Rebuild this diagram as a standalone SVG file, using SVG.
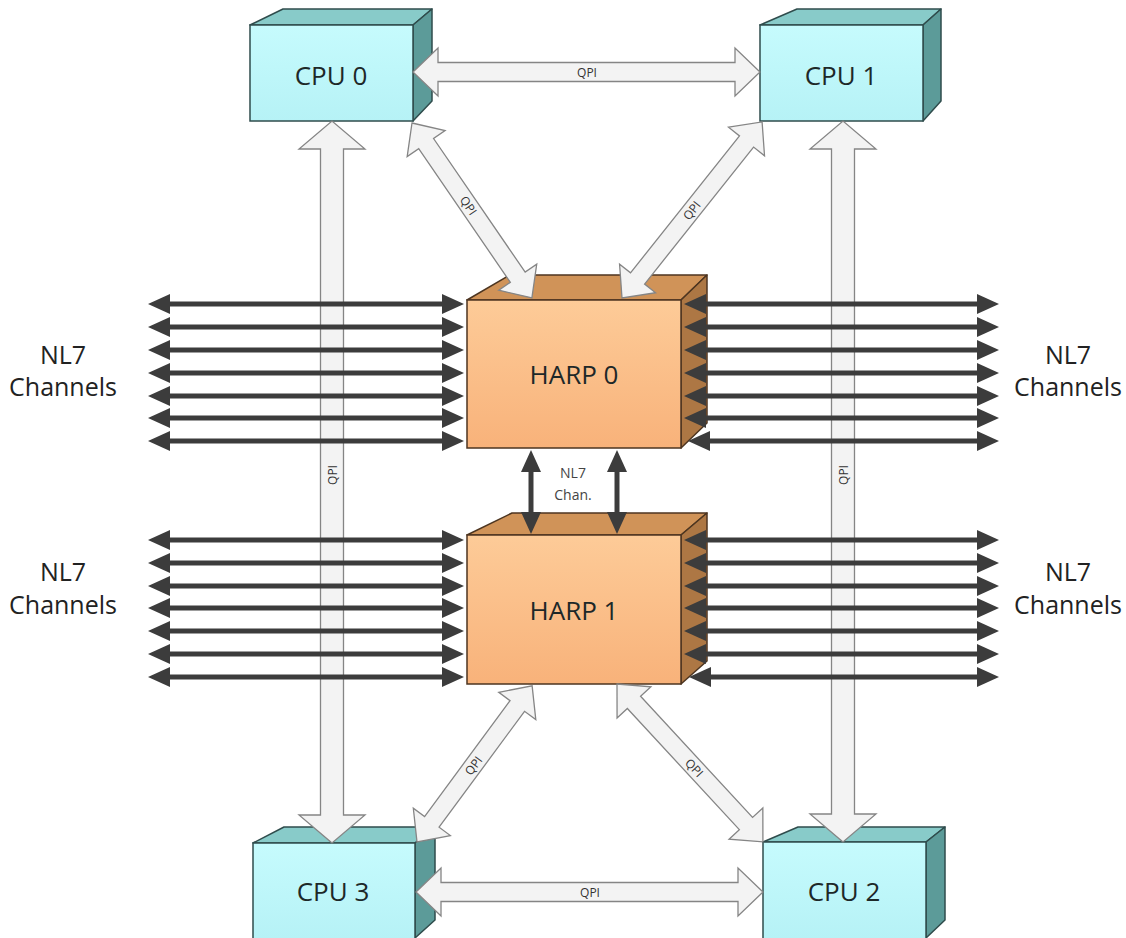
<svg xmlns="http://www.w3.org/2000/svg" width="1126" height="938" viewBox="0 0 1126 938">
  <defs>
    <linearGradient id="cpuFront" x1="0" y1="0" x2="0" y2="1">
      <stop offset="0" stop-color="#c6fbfd"/>
      <stop offset="1" stop-color="#b6f2f6"/>
    </linearGradient>
    <linearGradient id="harpFront" x1="0" y1="0" x2="0" y2="1">
      <stop offset="0" stop-color="#fdcb98"/>
      <stop offset="1" stop-color="#f8b27a"/>
    </linearGradient>
    <!-- filled head for the dark channel links; placed at the base of the head -->
    <marker id="dh" viewBox="0 -10 22 20" refX="1" refY="0" markerWidth="22" markerHeight="20" markerUnits="userSpaceOnUse" orient="auto-start-reverse">
      <path d="M0,-10 L22,0 L0,10 z" fill="#3c3c3c"/>
    </marker>
  </defs>
  <style>
    .cpu-front{fill:url(#cpuFront);stroke:#2f4c4c;stroke-width:1.5}
    .cpu-top{fill:#88cbc9;stroke:#2f4c4c;stroke-width:1.5;stroke-linejoin:round}
    .cpu-side{fill:#5c9b99;stroke:#2f4c4c;stroke-width:1.5;stroke-linejoin:round}
    .harp-front{fill:url(#harpFront);stroke:#4d3520;stroke-width:1.5}
    .harp-top{fill:#d09358;stroke:#4d3520;stroke-width:1.5;stroke-linejoin:round}
    .harp-side{fill:#ad7744;stroke:#4d3520;stroke-width:1.5;stroke-linejoin:round}
    .box-label{font-family:"Open Sans","Liberation Sans",sans-serif;font-size:26px;fill:#1d2828;text-anchor:middle;dominant-baseline:central}
    .qpi{fill:#f3f3f3;stroke:#858585;stroke-width:1.3;stroke-linejoin:miter}
    .qpi-label{font-family:"Open Sans","Liberation Sans",sans-serif;font-size:12px;fill:#333;text-anchor:middle;dominant-baseline:central}
    .nl7{stroke:#3c3c3c;stroke-width:5;fill:none;marker-start:url(#dh);marker-end:url(#dh)}
    .side-label{font-family:"Open Sans","Liberation Sans",sans-serif;font-size:25px;fill:#222;text-anchor:middle}
    .chan-label{font-family:"Open Sans","Liberation Sans",sans-serif;font-size:14px;fill:#444;text-anchor:middle}
  </style>

  <rect width="1126" height="938" fill="#ffffff"/>

  <!-- processor sockets -->
  <g id="cpu0">
    <polygon class="cpu-top" points="250,25 283,9 432,9 413,25"/>
    <polygon class="cpu-side" points="413,25 432,9 432,101 413,121"/>
    <rect class="cpu-front" x="250" y="25" width="163" height="96"/>
    <text class="box-label" x="331" y="75">CPU 0</text>
  </g>
  <g id="cpu1">
    <polygon class="cpu-top" points="760,25 797,9 941,9 923,25"/>
    <polygon class="cpu-side" points="923,25 941,9 941,101 923,121"/>
    <rect class="cpu-front" x="760" y="25" width="163" height="96"/>
    <text class="box-label" x="841" y="75">CPU 1</text>
  </g>
  <g id="cpu3">
    <polygon class="cpu-top" points="253,843 284,827 435,827 415,843"/>
    <polygon class="cpu-side" points="415,843 435,827 435,920 415,938"/>
    <rect class="cpu-front" x="253" y="843" width="162" height="96"/>
    <text class="box-label" x="333" y="891">CPU 3</text>
  </g>
  <g id="cpu2">
    <polygon class="cpu-top" points="763,842 798,827 945,827 926,842"/>
    <polygon class="cpu-side" points="926,842 945,827 945,920 926,938"/>
    <rect class="cpu-front" x="763" y="842" width="163" height="97"/>
    <text class="box-label" x="844" y="891">CPU 2</text>
  </g>

  <!-- accelerator boards -->
  <g id="harp0">
    <polygon class="harp-top" points="467,300 510,275 707,275 681,300"/>
    <polygon class="harp-side" points="681,300 707,275 707,423 681,448"/>
    <rect class="harp-front" x="467" y="300" width="214" height="148"/>
    <text class="box-label" x="574" y="374">HARP 0</text>
  </g>
  <g id="harp1">
    <polygon class="harp-top" points="467,535 512,513 707,513 681,535"/>
    <polygon class="harp-side" points="681,535 707,513 707,661 681,684"/>
    <rect class="harp-front" x="467" y="535" width="214" height="149"/>
    <text class="box-label" x="574" y="610">HARP 1</text>
  </g>

  <!-- links -->
  <g id="connectors">
    <!-- QPI block arrows, drawn along local x from one tip to the other -->
    <g transform="translate(413,72)">
      <polygon class="qpi" points="0,0 25,-24 25,-9.5 322,-9.5 322,-24 347,0 322,24 322,9.5 25,9.5 25,24"/>
      <text class="qpi-label" x="174" y="0">QPI</text>
    </g>
    <g transform="translate(416,892)">
      <polygon class="qpi" points="0,0 25,-24 25,-9.5 322,-9.5 322,-24 347,0 322,24 322,9.5 25,9.5 25,24"/>
      <text class="qpi-label" x="174" y="0">QPI</text>
    </g>
    <g transform="translate(332,843) rotate(-90)">
      <polygon class="qpi" points="0,0 28,-33 28,-11.5 694,-11.5 694,-33 722,0 694,33 694,11.5 28,11.5 28,33"/>
      <text class="qpi-label" x="368" y="0">QPI</text>
    </g>
    <g transform="translate(843,842) rotate(-90)">
      <polygon class="qpi" points="0,0 28,-33 28,-11.5 693,-11.5 693,-33 721,0 693,33 693,11.5 28,11.5 28,33"/>
      <text class="qpi-label" x="367" y="0">QPI</text>
    </g>
    <g transform="translate(412,123) rotate(55.56)">
      <polygon class="qpi" points="0,0 25,-23 25,-9 187,-9 187,-23 212,0 187,23 187,9 25,9 25,23"/>
      <text class="qpi-label" x="100" y="0">QPI</text>
    </g>
    <g transform="translate(622,298) rotate(-51.49)">
      <polygon class="qpi" points="0,0 25,-23 25,-9 200,-9 200,-23 225,0 200,23 200,9 25,9 25,23"/>
      <text class="qpi-label" x="112" y="0">QPI</text>
    </g>
    <g transform="translate(417,842) rotate(-53.6)">
      <polygon class="qpi" points="0,0 25,-23 25,-9 169,-9 169,-23 194,0 169,23 169,9 25,9 25,23"/>
      <text class="qpi-label" x="95" y="0">QPI</text>
    </g>
    <g transform="translate(617,684) rotate(47.26)">
      <polygon class="qpi" points="0,0 25,-23 25,-9 190,-9 190,-23 215,0 190,23 190,9 25,9 25,23"/>
      <text class="qpi-label" x="114" y="0">QPI</text>
    </g>

    <!-- NL7 channels, HARP 0 -->
    <line class="nl7" x1="169" y1="304" x2="443" y2="304"/>
    <line class="nl7" x1="169" y1="327" x2="443" y2="327"/>
    <line class="nl7" x1="169" y1="350" x2="443" y2="350"/>
    <line class="nl7" x1="169" y1="373" x2="443" y2="373"/>
    <line class="nl7" x1="169" y1="396" x2="443" y2="396"/>
    <line class="nl7" x1="169" y1="418" x2="443" y2="418"/>
    <line class="nl7" x1="169" y1="441" x2="443" y2="441"/>
    <line class="nl7" x1="705" y1="304" x2="978" y2="304"/>
    <line class="nl7" x1="705" y1="327" x2="978" y2="327"/>
    <line class="nl7" x1="705" y1="350" x2="978" y2="350"/>
    <line class="nl7" x1="705" y1="373" x2="978" y2="373"/>
    <line class="nl7" x1="705" y1="396" x2="978" y2="396"/>
    <line class="nl7" x1="705" y1="418" x2="978" y2="418"/>
    <line class="nl7" x1="709" y1="441" x2="978" y2="441"/>

    <!-- NL7 channels, HARP 1 -->
    <line class="nl7" x1="169" y1="540" x2="443" y2="540"/>
    <line class="nl7" x1="169" y1="563" x2="443" y2="563"/>
    <line class="nl7" x1="169" y1="586" x2="443" y2="586"/>
    <line class="nl7" x1="169" y1="608" x2="443" y2="608"/>
    <line class="nl7" x1="169" y1="631" x2="443" y2="631"/>
    <line class="nl7" x1="169" y1="654" x2="443" y2="654"/>
    <line class="nl7" x1="169" y1="677" x2="443" y2="677"/>
    <line class="nl7" x1="705" y1="540" x2="978" y2="540"/>
    <line class="nl7" x1="705" y1="563" x2="978" y2="563"/>
    <line class="nl7" x1="705" y1="586" x2="978" y2="586"/>
    <line class="nl7" x1="705" y1="608" x2="978" y2="608"/>
    <line class="nl7" x1="705" y1="631" x2="978" y2="631"/>
    <line class="nl7" x1="705" y1="654" x2="978" y2="654"/>
    <line class="nl7" x1="710" y1="677" x2="978" y2="677"/>

    <!-- board-to-board channels -->
    <line class="nl7" x1="531" y1="471" x2="531" y2="513"/>
    <line class="nl7" x1="617" y1="471" x2="617" y2="513"/>
    <text class="chan-label" x="573" y="478">NL7</text>
    <text class="chan-label" x="573" y="500">Chan.</text>
  </g>

  <!-- channel group captions -->
  <g id="captions">
    <text class="side-label" x="63" y="364">NL7</text>
    <text class="side-label" x="63" y="396">Channels</text>
    <text class="side-label" x="1068" y="364">NL7</text>
    <text class="side-label" x="1068" y="396">Channels</text>
    <text class="side-label" x="63" y="581">NL7</text>
    <text class="side-label" x="63" y="614">Channels</text>
    <text class="side-label" x="1068" y="581">NL7</text>
    <text class="side-label" x="1068" y="614">Channels</text>
  </g>
</svg>
